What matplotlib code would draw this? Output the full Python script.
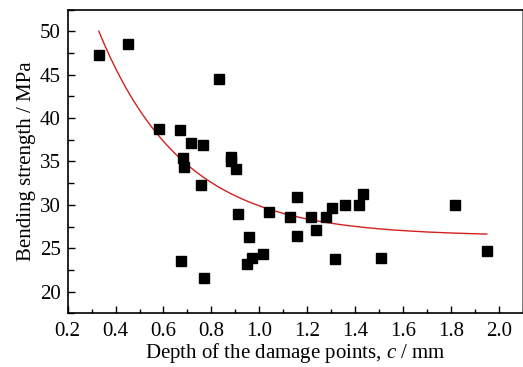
import numpy as np
import matplotlib
matplotlib.use("Agg")
import matplotlib.pyplot as plt
from matplotlib.ticker import MultipleLocator

plt.rcParams['font.family'] = ['Liberation Serif', 'DejaVu Serif']
plt.rcParams['mathtext.fontset'] = 'custom'
plt.rcParams['mathtext.it'] = 'Liberation Serif:italic'
plt.rcParams['mathtext.rm'] = 'Liberation Serif'

depth = [0.331, 0.45, 0.83, 0.583, 0.669, 0.715, 0.764, 0.682, 0.686, 0.883,
         0.883, 0.901, 0.757, 0.912, 1.04, 1.129, 0.958, 1.017, 0.971, 0.95,
         0.675, 0.768, 1.158, 1.158, 1.215, 1.236, 1.278, 1.303, 1.317, 1.36,
         1.415, 1.435, 1.507, 1.817, 1.95]
strength = [47.24, 48.5, 44.5, 38.78, 38.6, 37.1, 36.9, 35.37, 34.4, 35.5,
            35.0, 34.1, 32.26, 28.99, 29.15, 28.57, 26.3, 24.3, 23.85, 23.2,
            23.57, 21.58, 30.9, 26.42, 28.57, 27.14, 28.6, 29.64, 23.77, 30.0,
            29.99, 31.3, 23.85, 29.99, 24.65]

# exponential decay fit parameters: y = y0 + A*exp(-x/t)
fit_y0, fit_A, fit_t = 26.4, 60.6, 0.35
fit_range = (0.33, 1.95)

fig = plt.figure(figsize=(5.23, 3.67), dpi=100)
ax = fig.add_axes([0.1294, 0.1463, 0.8700, 0.8278])

xf = np.linspace(fit_range[0], fit_range[1], 200)
yf = fit_y0 + fit_A * np.exp(-xf / fit_t)
ax.plot(xf, yf, color='#d42020', lw=1.0, zorder=2)
ax.plot(depth, strength, linestyle='none', marker='s', ms=7, color='black', zorder=3)

ax.set_xlim(0.2, 2.1)
ax.set_ylim(17.5, 52.5)
ax.xaxis.set_major_locator(MultipleLocator(0.2))
ax.xaxis.set_minor_locator(MultipleLocator(0.1))
ax.yaxis.set_major_locator(MultipleLocator(5))
ax.yaxis.set_minor_locator(MultipleLocator(2.5))
ax.set_xticks([0.2, 0.4, 0.6, 0.8, 1.0, 1.2, 1.4, 1.6, 1.8, 2.0])
ax.set_xticklabels(['0.2', '0.4', '0.6', '0.8', '1.0', '1.2', '1.4', '1.6', '1.8', '2.0'])
ax.set_yticks([20, 25, 30, 35, 40, 45, 50])

ax.tick_params(which='major', direction='in', length=5, width=1, labelsize=15, pad=5)
ax.tick_params(which='minor', direction='in', length=3, width=1)
ax.tick_params(axis='y', which='minor', length=4.5)
ax.tick_params(axis='x', which='major', pad=6)

for s in ['left', 'bottom', 'top']:
    ax.spines[s].set_color('black')
    ax.spines[s].set_linewidth(1.2)
ax.spines['right'].set_color('#666666')
ax.spines['right'].set_linewidth(1.2)

ax.set_xlabel('Depth of the damage points, $c$ / mm', fontsize=15, labelpad=0)
ax.set_ylabel('Bending strength / MPa', fontsize=15, labelpad=3)

fig.savefig('out.png', dpi=100)
